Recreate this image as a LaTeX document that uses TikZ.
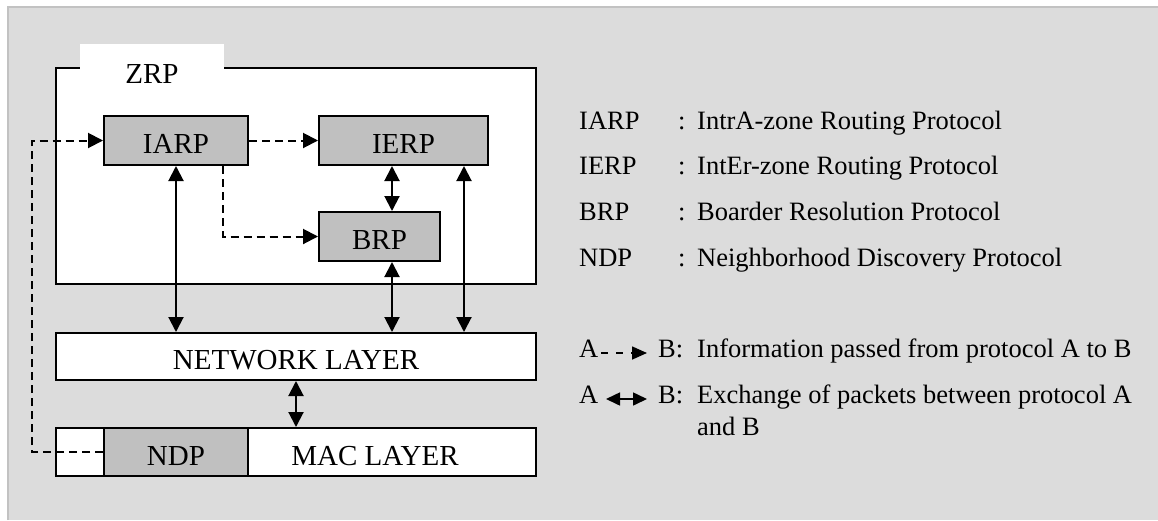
\documentclass[tikz,border=0pt]{standalone}
\usepackage{fontspec}
\setmainfont{Liberation Serif}
\usetikzlibrary{arrows.meta}

\definecolor{panel}{HTML}{DCDCDC}
\definecolor{panelrule}{HTML}{C2C2C2}
\definecolor{proto}{HTML}{C0C0C0}

\newcommand\diagboxfont{\fontsize{29}{34}\selectfont}
\newcommand\diaglegendfont{\fontsize{26.5}{31}\selectfont}

\begin{document}
\begin{tikzpicture}[x=1pt,y=-1pt,
  layerbox/.style={draw=black, line width=2pt, fill=white, inner sep=0pt,
    font=\diagboxfont, text height=26pt, text depth=0pt},
  protobox/.style={layerbox, fill=proto},
  exchange/.style={line width=2pt,
    {Triangle[length=15pt,width=15pt]}-{Triangle[length=15pt,width=15pt]}},
  passes/.style={line width=2pt, dash pattern=on 8pt off 5pt,
    -{Triangle[length=15pt,width=15pt]}},
  legendtext/.style={anchor=base west, inner sep=0pt, font=\diaglegendfont},
  legendpass/.style={line width=1.6pt, dash pattern=on 7pt off 8pt,
    -{Triangle[length=15pt,width=13pt]}},
  legendexchange/.style={line width=1.6pt,
    {Triangle[length=14pt,width=13pt]}-{Triangle[length=14pt,width=13pt]}},
]
\useasboundingbox (0,0) rectangle (1158,520);

% panel behind the whole figure
\fill[panel] (7,6) rectangle (1158,520);
\draw[panelrule, line width=2pt] (7.7,520) -- (7.7,6.7) -- (1158,6.7);

% ZRP frame with its tab
\node[layerbox, minimum width=480pt, minimum height=216pt] (zrp) at (296,176) {};
\fill[white] (80,44) rectangle (224,69.5);
\node[anchor=base, inner sep=0pt, font=\diagboxfont] (zrplabel) at (152,83) {ZRP};

% protocols inside ZRP
\node[protobox, minimum width=144pt, minimum height=49pt] (iarp) at (176,140.5) {IARP};
\node[protobox, minimum width=169pt, minimum height=49pt] (ierp) at (403.5,140.5) {IERP};
\node[protobox, minimum width=121pt, minimum height=49pt] (brp) at (379.5,236.5) {BRP};

% lower layers
\node[layerbox, minimum width=480pt, minimum height=47pt] (net) at (296,356.5) {NETWORK LAYER};
\node[layerbox, minimum width=480pt, minimum height=48pt] (mac) at (296,452) {};
\node[protobox, minimum width=144pt, minimum height=48pt] (ndp) at (176,452) {NDP};
\node[inner sep=0pt, font=\diagboxfont, text height=26pt, text depth=0pt] (maclabel) at (375,452) {MAC LAYER};

% vertical guide positions for connectors
\coordinate (x32) at (32,0);
\coordinate (x223) at (223,0);
\coordinate (x392) at (392,0);
\coordinate (x464) at (464,0);

% packet exchange
\draw[exchange] (iarp.south) -- (iarp.south |- net.north);
\draw[exchange] (ierp.south -| x392) -- (brp.north -| x392);
\draw[exchange] (brp.south -| x392) -- (net.north -| x392);
\draw[exchange] (ierp.south -| x464) -- (net.north -| x464);
\draw[exchange] (net.south) -- (mac.north);

% information passing
\draw[passes] (iarp.east) -- (ierp.west);
\draw[passes] (iarp.south -| x223) |- (brp.west);
\draw[passes] (ndp.west) -- (ndp.west -| x32) |- (iarp.west);

% legend: abbreviations
\node[legendtext] (k1) at (579,129) {IARP};
\node[legendtext] (c1) at (678,129) {:};
\node[legendtext] (d1) at (697,129) {IntrA-zone Routing Protocol};
\node[legendtext] (k2) at (579,174) {IERP};
\node[legendtext] (c2) at (678,174) {:};
\node[legendtext] (d2) at (697,174) {IntEr-zone Routing Protocol};
\node[legendtext] (k3) at (579,220) {BRP};
\node[legendtext] (c3) at (678,220) {:};
\node[legendtext] (d3) at (697,220) {Boarder Resolution Protocol};
\node[legendtext] (k4) at (579,266) {NDP};
\node[legendtext] (c4) at (678,266) {:};
\node[legendtext] (d4) at (697,266) {Neighborhood Discovery Protocol};

% legend: connector meanings
\node[legendtext] (pa) at (579,357) {A};
\coordinate (pas) at (601,353);
\coordinate (pae) at (647,353);
\draw[legendpass] (pas) -- (pae);
\node[legendtext] (pb) at (658,357) {B:};
\node[legendtext] (pd) at (697,357) {Information passed from protocol A to B};

\node[legendtext] (ea) at (579,403) {A};
\coordinate (eas) at (606,399);
\coordinate (eae) at (647,399);
\draw[legendexchange] (eas) -- (eae);
\node[legendtext] (eb) at (658,403) {B:};
\node[legendtext] (ed) at (697,403) {Exchange of packets between protocol A};
\node[legendtext] (ed2) at (697,435) {and B};
\end{tikzpicture}
\end{document}
